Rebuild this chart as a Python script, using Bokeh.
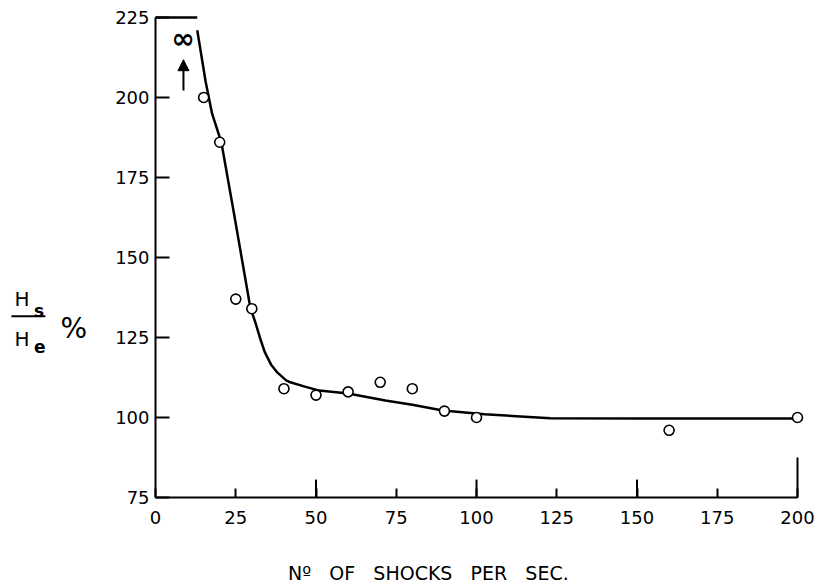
from bokeh.plotting import figure
from bokeh.models import Range1d, FixedTicker, Label, Arrow, NormalHead, LinearAxis
from bokeh.embed import file_html
from bokeh.resources import INLINE

# ---- data ----
shocks = [15, 20, 25, 30, 40, 50, 60, 70, 80, 90, 100, 160, 200]
ratio = [200, 186, 137, 134, 109, 107, 108, 111, 109, 102, 100, 96, 100]

curve_x = [13, 15.6, 17.6, 20.5, 24.4, 29.5, 31, 32.5, 34, 36, 38, 40.7, 42, 46, 51, 60, 71.6, 80, 89.5, 102.5, 123, 150, 200]
curve_y = [221, 205, 195, 186, 164, 134.5, 130, 125, 120.5, 116.5, 114, 111.6, 111, 109.8, 108.4, 107.5, 105.3, 104, 102.2, 101, 99.8, 99.7, 99.7]

x_ticks = [0, 25, 50, 75, 100, 125, 150, 175, 200]
x_long_ticks = [50, 100, 150]
y_ticks = [75, 100, 125, 150, 175, 200, 225]
infinity_x = 8.5
infinity_y = 218.5

X_MIN, X_MAX = 0, 200
Y_MIN, Y_MAX = 75, 225
FONT = "DejaVu Sans"

# the frame fills the whole canvas; axes are pinned at x=0 and y=75
p = figure(width=823, height=585, output_backend="svg", toolbar_location=None,
           x_range=Range1d(-48.3, 208.1), y_range=Range1d(47.5, 230.3),
           x_axis_location=None, y_axis_location=None, min_border=0)
p.title.visible = False
p.outline_line_color = None
p.grid.visible = False
p.background_fill_color = "white"
p.border_fill_color = "white"

xaxis = LinearAxis(fixed_location=Y_MIN, bounds=(X_MIN, X_MAX), ticker=FixedTicker(ticks=x_ticks))
yaxis = LinearAxis(fixed_location=X_MIN, bounds=(Y_MIN, Y_MAX), ticker=FixedTicker(ticks=y_ticks))
for ax in (xaxis, yaxis):
    ax.axis_line_width = 2
    ax.axis_line_color = "black"
    ax.major_tick_line_width = 2
    ax.major_tick_line_color = "black"
    ax.major_tick_out = 0
    ax.minor_tick_line_color = None
    ax.major_label_text_font = FONT
    ax.major_label_text_font_size = "18px"
    ax.major_label_text_color = "black"
xaxis.major_tick_in = 9
xaxis.major_label_standoff = 14
yaxis.major_tick_in = 14
yaxis.major_label_standoff = 6
p.add_layout(xaxis, "below")
p.add_layout(yaxis, "left")

# longer ticks on the x axis
p.segment(x0=x_long_ticks, y0=[Y_MIN] * len(x_long_ticks), x1=x_long_ticks,
          y1=[80.6] * len(x_long_ticks), line_color="black", line_width=2)
p.segment(x0=[X_MAX], y0=[Y_MIN], x1=[X_MAX], y1=[87.5], line_color="black", line_width=2)
# short top rule at 225
p.segment(x0=[X_MIN], y0=[Y_MAX], x1=[13], y1=[Y_MAX], line_color="black", line_width=2.5)

# fitted curve
p.line(curve_x, curve_y, line_color="black", line_width=2.5)
# measured points
p.scatter(shocks, ratio, size=10, marker="circle", fill_color="white",
          line_color="black", line_width=1.6)

# infinity mark and arrow
p.add_layout(Label(x=infinity_x, y=infinity_y, text="∞", text_font=FONT,
                   text_font_size="28px", text_font_style="bold", text_color="black",
                   text_align="center", text_baseline="middle"))
p.add_layout(Arrow(x_start=8.7, y_start=202.2, x_end=8.7, y_end=211.8,
                   line_width=2, end=NormalHead(size=11, fill_color="black", line_color="black")))

# y-axis label  Hs / He %
p.add_layout(Label(x=-43.9, y=136.9, text="H", text_font=FONT, text_font_size="20px",
                   text_color="black", text_baseline="alphabetic"))
p.add_layout(Label(x=-37.9, y=133.4, text="s", text_font=FONT, text_font_size="17px",
                   text_font_style="bold", text_color="black", text_baseline="alphabetic"))
p.segment(x0=[-44.9], y0=[131.6], x1=[-34.3], y1=[131.6], line_color="black", line_width=2)
p.add_layout(Label(x=-43.9, y=124.4, text="H", text_font=FONT, text_font_size="20px",
                   text_color="black", text_baseline="alphabetic"))
p.add_layout(Label(x=-37.9, y=122.2, text="e", text_font=FONT, text_font_size="17px",
                   text_font_style="bold", text_color="black", text_baseline="alphabetic"))
p.add_layout(Label(x=-29.6, y=127.8, text="%", text_font=FONT, text_font_size="28px",
                   text_color="black", text_baseline="alphabetic"))

# x-axis title
p.add_layout(Label(x=85, y=51.5, text="Nº\u00a0\u00a0\u00a0OF\u00a0\u00a0\u00a0SHOCKS\u00a0\u00a0\u00a0PER\u00a0\u00a0\u00a0SEC.",
                   text_font=FONT, text_font_size="19px", text_color="black",
                   text_align="center", text_baseline="alphabetic"))

open("out.html", "w").write(file_html(p, INLINE))
